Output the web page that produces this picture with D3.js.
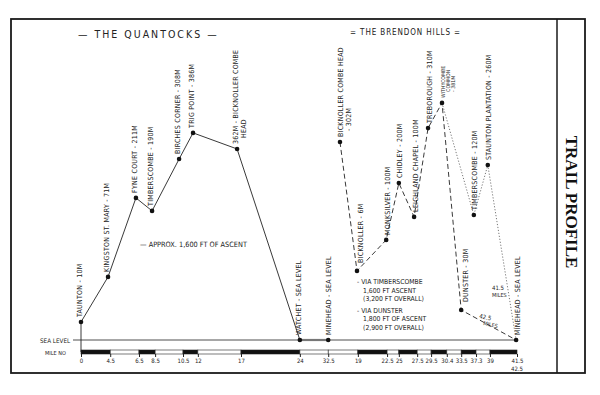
<!DOCTYPE html>
<html>
<head>
<meta charset="utf-8">
<script src="https://cdn.jsdelivr.net/npm/d3@7"></script>
<style>
  body { margin: 0; background: #fff; }
  svg { display: block; }
  .hand { font-family: "DejaVu Sans Condensed", "DejaVu Sans", sans-serif; fill: #222; }
</style>
</head>
<body>
<div id="chart"></div>
<script>
// Trail profile.
// pos = place along the drawn mile bar (0-100), drawn = drawn height above sea level (0-100)

// The Quantocks (solid line)
const quantockLabels = [
  ["TAUNTON - 10M"],
  ["KINGSTON ST. MARY - 71M"],
  ["FYNE COURT - 211M"],
  ["TIMBERSCOMBE - 190M"],
  ["BIRCHES CORNER - 308M"],
  ["TRIG POINT - 386M"],
  ["362M - BICKNOLLER COMBE", "HEAD"],
  ["WATCHET - SEA LEVEL"]
];
const quantockPos = [0, 6.2, 12.6, 16.3, 22.5, 25.7, 35.8, 50.2];
const quantockDrawn = [7.5, 26.3, 59.2, 53.8, 75.4, 86.3, 79.6, 0];

// Minehead on the coast, end of the Quantocks leg
const coastLabels = [["MINEHEAD - SEA LEVEL"]];
const coastPos = [56.7];
const coastDrawn = [0];

// The Brendon Hills (dashed line, via Dunster)
const brendonLabels = [
  ["BICKNOLLER COMBE HEAD", "- 302M"],
  ["BICKNOLLER - 6M"],
  ["MONKSILVER - 100M"],
  ["CHIDLEY - 200M"],
  ["LEIGHLAND CHAPEL - 100M"],
  ["TREBOROUGH - 310M"],
  ["WITHYCOMBE", "COMMON", "- 381M"],
  ["DUNSTER - 30M"],
  ["MINEHEAD - SEA LEVEL"]
];
const brendonPos = [59.4, 63.3, 70.0, 72.9, 76.4, 79.6, 82.8, 87.2, 99.8];
const brendonDrawn = [82.5, 28.8, 41.7, 65.4, 51.3, 88.3, 98.8, 12.5, 0];

// Alternative finish via Timberscombe (dotted line)
const altLabels = [
  ["WITHYCOMBE", "COMMON", "- 381M"],
  ["TIMBERSCOMBE - 120M"],
  ["STAUNTON PLANTATION - 260M"],
  ["MINEHEAD - SEA LEVEL"]
];
const altPos = [82.8, 90.1, 93.3, 99.8];
const altDrawn = [98.8, 52.1, 72.9, 0];

// Mile bar
const mileLabels = ["0", "4.5", "6.5", "8.5", "10.5", "12", "17", "24", "32.5", "19",
  "22.5", "25", "27.5", "29.5", "30.4", "33.5", "37.3", "39", "41.5"];
const milePos = [0, 6.7, 13.3, 17.0, 23.4, 26.8, 36.7, 50.2, 56.7, 63.5,
  70.2, 72.9, 77.1, 80.3, 83.9, 87.2, 90.6, 93.8, 100];

const notesAscent = ["— APPROX. 1,600 FT OF ASCENT"];
const notesRoutes = ["- VIA TIMBERSCOMBE", "1,600 FT ASCENT", "(3,200 FT OVERALL)",
  "- VIA DUNSTER", "1,800 FT OF ASCENT", "(2,900 FT OVERALL)"];

function generateChart() {
  const width = 600, height = 395;
  const frame = {left: 11, top: 19, right: 585, bottom: 373, divider: 557};

  const x = d3.scaleLinear().domain([0, 100]).range([81, 517]);
  const y = d3.scaleLinear().domain([0, 100]).range([340, 100]);

  const svg = d3.create("svg")
    .attr("width", width)
    .attr("height", height)
    .attr("viewBox", [0, 0, width, height])
    .style("background", "white");

  // frame
  svg.append("rect")
    .attr("x", frame.left).attr("y", frame.top)
    .attr("width", frame.right - frame.left).attr("height", frame.bottom - frame.top)
    .attr("fill", "none").attr("stroke", "#1a1a1a").attr("stroke-width", 1.8);
  svg.append("line")
    .attr("x1", frame.divider).attr("x2", frame.divider)
    .attr("y1", frame.top).attr("y2", frame.bottom)
    .attr("stroke", "#1a1a1a").attr("stroke-width", 1.5);

  svg.append("text")
    .attr("transform", `translate(${(frame.divider + frame.right) / 2},${(frame.top + frame.bottom) / 2 + 6}) rotate(90)`)
    .attr("text-anchor", "middle")
    .attr("dominant-baseline", "central")
    .attr("font-family", "'Liberation Serif', 'DejaVu Serif', serif")
    .attr("font-weight", "bold")
    .attr("font-size", 17)
    .attr("fill", "#111")
    .text("TRAIL PROFILE");

  // section titles
  svg.append("text").attr("class", "hand")
    .attr("x", 78).attr("y", 38).attr("font-size", 10.5).attr("letter-spacing", 2)
    .text("— THE QUANTOCKS —");
  svg.append("text").attr("class", "hand")
    .attr("x", 350).attr("y", 35).attr("font-size", 8).attr("letter-spacing", 0.9)
    .text("= THE BRENDON HILLS =");

  // sea level and mile bar
  const barY = y(0) + 12;
  svg.append("line")
    .attr("x1", x(0) - 8).attr("x2", x(100))
    .attr("y1", y(0)).attr("y2", y(0))
    .attr("stroke", "#222").attr("stroke-width", 0.8);
  svg.append("line")
    .attr("x1", x(quantockPos[quantockPos.length - 1])).attr("x2", x(coastPos[0]))
    .attr("y1", y(0)).attr("y2", y(0))
    .attr("stroke", "#777").attr("stroke-width", 2.2);
  svg.append("line")
    .attr("x1", x(0)).attr("x2", x(0))
    .attr("y1", y(quantockDrawn[0])).attr("y2", barY)
    .attr("stroke", "#222").attr("stroke-width", 0.9);

  svg.append("text").attr("class", "hand")
    .attr("x", 40).attr("y", y(0) + 3).attr("font-size", 6.3)
    .text("SEA LEVEL");
  svg.append("text").attr("class", "hand")
    .attr("x", 45).attr("y", barY + 3).attr("font-size", 5.5)
    .text("MILE NO");

  const restart = mileLabels.indexOf("19");
  const segs = d3.range(milePos.length - 1).map(i => ({
    a: milePos[i], b: milePos[i + 1],
    dark: i < restart - 2 ? i % 2 === 0 : i >= restart ? (i - restart) % 2 === 0 : false
  }));
  svg.append("g")
    .selectAll("rect")
    .data(segs)
    .join("rect")
    .attr("x", d => x(d.a))
    .attr("y", barY - 2)
    .attr("width", d => x(d.b) - x(d.a))
    .attr("height", 4)
    .attr("fill", d => d.dark ? "#111" : "#fff")
    .attr("stroke", "#222")
    .attr("stroke-width", 0.6);

  const axis = svg.append("g")
    .attr("transform", `translate(0,${barY + 2})`)
    .call(d3.axisBottom(x).tickValues(milePos).tickSize(3)
      .tickFormat((d, i) => mileLabels[i]))
    .call(g => g.select(".domain").remove())
    .call(g => g.selectAll(".tick line").attr("stroke", "#222"))
    .call(g => g.selectAll(".tick text")
      .attr("class", "hand").attr("font-size", 6).attr("dy", "0.5em"));
  axis.append("text").attr("class", "hand")
    .attr("x", x(100)).attr("y", 17).attr("font-size", 6)
    .attr("text-anchor", "middle")
    .text("42.5");

  // profile lines
  const line = d3.line().x(d => x(d.pos)).y(d => y(d.drawn));
  const toPts = (labels, pos, drawn, base) => labels.map((l, i) => {
    // push a label clear of a steep line dropping into the point from the left
    const steep = i > 0 && (drawn[i - 1] - drawn[i]) / (pos[i] - pos[i - 1]) > 8;
    return {label: l, pos: pos[i], drawn: drawn[i], shift: steep ? 4 : base, gap: steep ? 8 : 5};
  });

  const quantock = toPts(quantockLabels, quantockPos, quantockDrawn, -1.5);
  const coast = toPts(coastLabels, coastPos, coastDrawn, 0);
  const brendon = toPts(brendonLabels, brendonPos, brendonDrawn, 1);
  const alt = toPts(altLabels, altPos, altDrawn, 1);

  svg.append("path").datum(quantock)
    .attr("d", line).attr("fill", "none").attr("stroke", "#222").attr("stroke-width", 0.9);
  svg.append("path").datum(brendon)
    .attr("d", line).attr("fill", "none").attr("stroke", "#222").attr("stroke-width", 0.9)
    .attr("stroke-dasharray", "5,3");
  svg.append("path").datum(alt)
    .attr("d", line).attr("fill", "none").attr("stroke", "#555").attr("stroke-width", 0.8)
    .attr("stroke-dasharray", "1.2,1.8");

  const allPts = quantock.concat(coast, brendon, alt.slice(1, 3));

  svg.append("g")
    .selectAll("circle")
    .data(allPts)
    .join("circle")
    .attr("cx", d => x(d.pos))
    .attr("cy", d => y(d.drawn))
    .attr("r", 2.3)
    .attr("fill", "#111");

  // rotated place names
  const labelGroups = svg.append("g")
    .selectAll("g")
    .data(allPts)
    .join("g")
    .attr("transform", d => `translate(${x(d.pos) + d.shift},${y(d.drawn) - d.gap}) rotate(-90)`);
  labelGroups.selectAll("text")
    .data(d => d.label.map((t, i) => ({t, i, n: d.label.length})))
    .join("text")
    .attr("class", "hand")
    .attr("font-size", d => d.n > 2 ? 5.2 : 7)
    .attr("letter-spacing", d => d.n > 2 ? 0 : 0.25)
    .attr("x", d => d.i === 0 ? 0 : 6)
    .attr("y", d => d.i * (d.n > 2 ? 5 : 7.5))
    .attr("dy", "0.35em")
    .text(d => d.t);

  // notes
  svg.append("text").attr("class", "hand")
    .attr("x", 140).attr("y", 247).attr("font-size", 7.3)
    .text(notesAscent[0]);
  svg.append("g")
    .selectAll("text")
    .data(notesRoutes)
    .join("text")
    .attr("class", "hand")
    .attr("font-size", 6.8)
    .attr("x", d => d.startsWith("-") ? 357 : 363)
    .attr("y", (d, i) => 284 + i * 8.5 + (i > 2 ? 3 : 0))
    .text(d => d);

  svg.append("text").attr("class", "hand")
    .attr("x", 492).attr("y", 290).attr("font-size", 6).text("41.5");
  svg.append("text").attr("class", "hand")
    .attr("x", 492).attr("y", 297).attr("font-size", 5.5).text("MILES");
  svg.append("text").attr("class", "hand")
    .attr("x", 479).attr("y", 318).attr("font-size", 6)
    .attr("transform", "rotate(12,479,318)").text("42.5");
  svg.append("text").attr("class", "hand")
    .attr("x", 483).attr("y", 325).attr("font-size", 5.5)
    .attr("transform", "rotate(12,483,325)").text("MILES");

  return svg.node();
}

d3.select("#chart").append(generateChart);
</script>
</body>
</html>
